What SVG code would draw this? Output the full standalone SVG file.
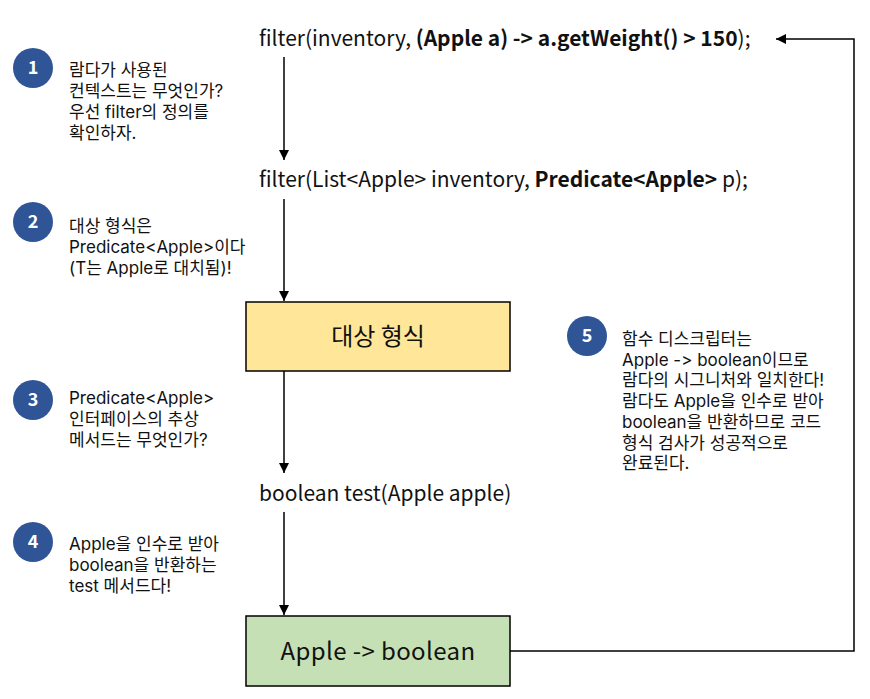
<svg xmlns="http://www.w3.org/2000/svg" width="870" height="699" viewBox="0 0 870 699">
<defs>
<marker id="ah" viewBox="0 0 10 10" refX="10" refY="5" markerWidth="10" markerHeight="10" markerUnits="userSpaceOnUse" orient="auto">
<path d="M0,0 L10,5 L0,10 z" fill="#000"/>
</marker>
</defs>
<style>
text { font-family: "Noto Sans CJK KR", "Noto Sans", sans-serif; fill: #111; }
.code { font-size: 21px; }
.b { font-weight: bold; }
.step { font-family: Inter, "Noto Sans CJK KR", sans-serif; font-size: 17px; font-feature-settings: "calt" 0, "liga" 0; font-variant-ligatures: none; }
.num { font-size: 18px; font-weight: bold; fill: #fff; text-anchor: middle; }
.badge { fill: #2F5597; }
.box { stroke: #000; stroke-width: 1.5; }
.lbl { font-size: 24px; text-anchor: middle; }
.conn { fill: none; stroke: #000; stroke-width: 1.5; }
</style>
<rect width="870" height="699" fill="#fff"/>

<g id="connectors">
<line class="conn" x1="284" y1="57" x2="284" y2="160" marker-end="url(#ah)"/>
<line class="conn" x1="284" y1="199" x2="284" y2="301" marker-end="url(#ah)"/>
<line class="conn" x1="284" y1="371" x2="284" y2="473" marker-end="url(#ah)"/>
<line class="conn" x1="284" y1="512" x2="284" y2="615" marker-end="url(#ah)"/>
<polyline class="conn" points="510,651 854,651 854,39 776,39" marker-end="url(#ah)"/>
</g>

<g id="code-call">
<text class="code" x="259" y="46">filter(inventory, <tspan class="b">(Apple a) -&gt; a.getWeight() &gt; 150</tspan>);</text>
</g>
<g id="code-def">
<text class="code" x="259" y="187">filter(List&lt;Apple&gt; inventory, <tspan class="b">Predicate&lt;Apple&gt;</tspan> p);</text>
</g>
<g id="target-type">
<rect class="box" x="246" y="302" width="264" height="69" fill="#FFE699"/>
<text class="lbl" x="378" y="345">대상 형식</text>
</g>
<g id="test-method">
<text class="code" x="259" y="501">boolean test(Apple apple)</text>
</g>
<g id="descriptor">
<rect class="box" x="246" y="616" width="264" height="70" fill="#C5E0B4"/>
<text class="lbl" x="378" y="660" letter-spacing="0.4">Apple -&gt; boolean</text>
</g>

<g id="step1">
<circle class="badge" cx="33" cy="68" r="20"/>
<text class="num" x="33" y="74">1</text>
<text class="step" x="69" y="76">람다가 사용된<tspan x="69" dy="21">컨텍스트는 무엇인가?</tspan><tspan x="69" dy="21">우선 filter의 정의를</tspan><tspan x="69" dy="21">확인하자.</tspan></text>
</g>
<g id="step2">
<circle class="badge" cx="33" cy="222" r="20"/>
<text class="num" x="33" y="228">2</text>
<text class="step" x="69" y="232">대상 형식은<tspan x="69" dy="21">Predicate&lt;Apple&gt;이다</tspan><tspan x="69" dy="21">(T는 Apple로 대치됨)!</tspan></text>
</g>
<g id="step3">
<circle class="badge" cx="33" cy="400" r="20"/>
<text class="num" x="33" y="406">3</text>
<text class="step" x="69" y="404">Predicate&lt;Apple&gt;<tspan x="69" dy="21">인터페이스의 추상</tspan><tspan x="69" dy="21">메서드는 무엇인가?</tspan></text>
</g>
<g id="step4">
<circle class="badge" cx="33" cy="542" r="20"/>
<text class="num" x="33" y="548">4</text>
<text class="step" x="69" y="550">Apple을 인수로 받아<tspan x="69" dy="21">boolean을 반환하는</tspan><tspan x="69" dy="21">test 메서드다!</tspan></text>
</g>
<g id="step5">
<circle class="badge" cx="587" cy="336" r="20"/>
<text class="num" x="587" y="342">5</text>
<text class="step" x="622" y="345">함수 디스크립터는<tspan x="622" dy="20.7">Apple -&gt; boolean이므로</tspan><tspan x="622" dy="20.7">람다의 시그니처와 일치한다!</tspan><tspan x="622" dy="20.7">람다도 Apple을 인수로 받아</tspan><tspan x="622" dy="20.7">boolean을 반환하므로 코드</tspan><tspan x="622" dy="20.7">형식 검사가 성공적으로</tspan><tspan x="622" dy="20.7">완료된다.</tspan></text>
</g>
</svg>
